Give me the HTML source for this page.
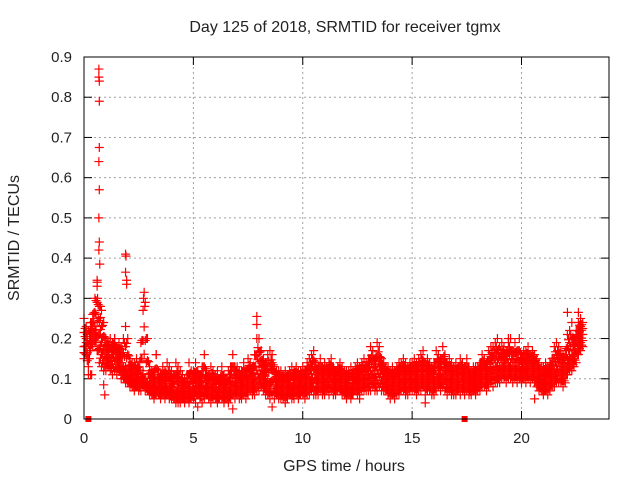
<!DOCTYPE html>
<html><head><meta charset="utf-8"><style>
body{margin:0;background:#fff}
svg{display:block;font-family:"Liberation Sans",sans-serif}
</style></head><body>
<svg id="chart" width="640" height="480" xmlns="http://www.w3.org/2000/svg">
<rect width="640" height="480" fill="#fff"/>
<text x="345" y="32" font-size="16" text-anchor="middle" fill="#222">Day 125 of 2018, SRMTID for receiver tgmx</text>
<text transform="translate(19,238) rotate(-90)" font-size="16" text-anchor="middle" fill="#222">SRMTID / TECUs</text>
<text x="344" y="471" font-size="16" text-anchor="middle" fill="#222">GPS time / hours</text>
<g id="grid"></g>
<g id="ticks"></g>
<g id="marks"></g>
<rect x="84" y="57" width="525" height="362" fill="none" stroke="#000" stroke-width="1"/>
</svg>
<script>
const xTicks=[0,5,10,15,20];
const yTicks=[0,0.1,0.2,0.3,0.4,0.5,0.6,0.7,0.8,0.9];
const yTickLabels=["0","0.1","0.2","0.3","0.4","0.5","0.6","0.7","0.8","0.9"];
const tStep=0.1;
const seriesLo=[.15,.16,.11,.17,.18,.19,.17,.14,.13,.12,
.12,.13,.12,.11,.12,.11,.12,.10,.10,.09,
.09,.08,.08,.07,.08,.07,.07,.08,.07,.07,
.06,.06,.05,.06,.06,.05,.06,.05,.06,.05,
.05,.05,.04,.05,.04,.05,.04,.05,.04,.05,
.05,.04,.06,.05,.04,.05,.06,.05,.04,.05,
.05,.04,.05,.05,.04,.05,.04,.05,.06,.05,
.06,.05,.05,.06,.05,.06,.07,.06,.06,.07,
.07,.08,.07,.06,.06,.05,.06,.05,.06,.05,
.05,.05,.04,.05,.06,.05,.05,.06,.05,.06,
.06,.05,.06,.06,.07,.06,.06,.06,.07,.06,
.06,.07,.06,.07,.06,.06,.07,.07,.06,.06,
.05,.06,.05,.06,.07,.06,.06,.07,.07,.07,
.07,.07,.08,.07,.07,.08,.07,.07,.07,.06,
.05,.06,.05,.06,.06,.07,.07,.06,.06,.07,
.07,.07,.06,.07,.07,.08,.06,.07,.07,.06,
.06,.07,.08,.07,.08,.07,.06,.07,.06,.06,
.06,.07,.06,.07,.06,.07,.06,.06,.07,.06,
.07,.07,.08,.08,.07,.08,.09,.08,.09,.09,
.09,.10,.10,.09,.10,.10,.09,.10,.09,.10,
.09,.10,.09,.10,.09,.10,.09,.08,.07,.07,
.06,.07,.06,.07,.08,.08,.09,.09,.09,.08,
.09,.11,.12,.12,.13,.14,.16,.17,.18];
const seriesMid=[.18,.20,.15,.21,.22,.23,.24,.21,.19,.17,
.16,.17,.15,.16,.17,.15,.16,.14,.13,.13,
.12,.11,.11,.10,.10,.10,.11,.12,.10,.09,
.09,.09,.08,.09,.08,.08,.09,.08,.08,.08,
.08,.07,.07,.08,.07,.07,.06,.07,.08,.07,
.08,.09,.09,.08,.09,.10,.08,.09,.08,.09,
.08,.07,.08,.09,.07,.08,.07,.09,.10,.09,
.09,.09,.08,.10,.09,.10,.11,.10,.10,.12,
.13,.12,.11,.10,.10,.09,.12,.10,.09,.09,
.08,.09,.08,.09,.09,.08,.09,.10,.08,.09,
.09,.09,.10,.10,.11,.12,.10,.10,.11,.10,
.10,.10,.11,.11,.10,.10,.10,.11,.09,.09,
.09,.09,.08,.09,.10,.10,.10,.11,.10,.11,
.11,.12,.12,.11,.12,.13,.12,.11,.10,.10,
.09,.09,.09,.10,.10,.10,.11,.10,.10,.11,
.10,.11,.10,.11,.11,.12,.10,.11,.11,.10,
.10,.11,.12,.11,.12,.12,.10,.11,.10,.10,
.10,.10,.11,.11,.10,.11,.10,.09,.10,.10,
.10,.11,.12,.12,.11,.12,.13,.13,.14,.14,
.13,.14,.14,.13,.14,.14,.13,.14,.13,.14,
.12,.13,.13,.14,.13,.14,.13,.12,.10,.10,
.09,.10,.10,.11,.12,.12,.13,.14,.13,.12,
.13,.15,.16,.16,.17,.19,.20,.21,.21];
const seriesHi=[.25,.23,.22,.24,.26,.30,.34,.28,.27,.24,
.20,.19,.20,.19,.20,.18,.19,.18,.20,.23,
.20,.15,.14,.14,.15,.13,.19,.27,.29,.20,
.13,.12,.12,.16,.12,.11,.13,.12,.14,.13,
.12,.11,.14,.13,.12,.11,.10,.11,.14,.12,
.12,.14,.12,.11,.13,.16,.12,.11,.13,.12,
.11,.12,.10,.13,.11,.10,.12,.13,.16,.13,
.13,.12,.12,.14,.12,.15,.14,.13,.16,.20,
.20,.17,.15,.14,.16,.17,.16,.13,.12,.12,
.12,.11,.12,.11,.12,.13,.12,.13,.12,.12,
.13,.12,.14,.15,.16,.17,.14,.13,.15,.13,
.14,.13,.14,.15,.13,.12,.13,.14,.13,.12,
.12,.12,.13,.12,.13,.14,.13,.14,.15,.14,
.15,.18,.17,.15,.19,.18,.15,.14,.13,.13,
.12,.13,.12,.13,.14,.14,.15,.14,.13,.14,
.14,.15,.14,.15,.16,.17,.14,.15,.14,.13,
.14,.17,.16,.15,.18,.16,.14,.15,.14,.13,
.14,.13,.15,.14,.13,.15,.13,.12,.13,.13,
.13,.14,.16,.15,.14,.17,.18,.18,.19,.20,
.18,.19,.18,.17,.19,.20,.17,.19,.17,.20,
.16,.17,.17,.18,.16,.17,.16,.15,.14,.13,
.13,.14,.13,.14,.15,.18,.19,.18,.17,.16,
.17,.21,.22,.24,.20,.22,.24,.25,.24];
const outlierT=[0.68,0.68,0.7,0.7,0.7,0.68,0.7,0.68,0.7,0.68,0.72,0.6,0.6,0.62,0.75,1.9,1.92,1.9,1.95,1.95,2.75,2.72,2.78,0.9,0.95,0.3,0.35,7.9,7.9,22.1,22.6,4.3,5.2,8.6,6.8,0.1,1.4,3.3,12.6,15.6,19.4,20.6];
const outlierV=[.87,.85,.84,.79,.675,.64,.57,.5,.44,.42,.385,.345,.33,.3,.28,.41,.405,.365,.345,.335,.315,.3,.28,.085,.06,.11,.11,.255,.235,.265,.265,.04,.03,.03,.025,.19,.2,.16,.05,.04,.2,.05];
const markerT=[0.2,17.4];
const markerV=[0,0];

const X0=84,X1=609,Y0=419,Y1=57,XMAX=24,YMAX=0.9;
const sx=t=>X0+(X1-X0)*t/XMAX;
const sy=v=>Y0-(Y0-Y1)*v/YMAX;
const NS="http://www.w3.org/2000/svg";
const grid=document.getElementById('grid'),ticks=document.getElementById('ticks'),marks=document.getElementById('marks');
function mk(tag,attrs,parent){const e=document.createElementNS(NS,tag);for(const k in attrs)e.setAttribute(k,attrs[k]);parent.appendChild(e);return e;}

yTicks.forEach((v,i)=>{
  const y=sy(v);
  if(i>0&&i<yTicks.length-1){const g=mk('line',{x1:X0,x2:X1,y1:y,y2:y,stroke:'#a0a0a0','stroke-dasharray':'2,3'},grid);
  
  }
  const t1=mk('line',{x1:X0,x2:X0+8,y1:y,y2:y,stroke:'#000'},ticks);
  
  
  const t2=mk('line',{x1:X1-8,x2:X1,y1:y,y2:y,stroke:'#000'},ticks);
  
  
  const lb=mk('text',{x:72,y:y+5,'font-size':15,'text-anchor':'end',fill:'#222'},ticks);
  lb.textContent=yTickLabels[i];
  
  
});
xTicks.forEach(t=>{
  const x=sx(t);
  if(t>0){const g=mk('line',{x1:x,x2:x,y1:Y1,y2:Y0,stroke:'#a0a0a0','stroke-dasharray':'2,3'},grid);
  
  }
  const t1=mk('line',{x1:x,x2:x,y1:Y0,y2:Y0-8,stroke:'#000'},ticks);
  
  
  const t2=mk('line',{x1:x,x2:x,y1:Y1,y2:Y1+8,stroke:'#000'},ticks);
  
  
  const lb=mk('text',{x:x,y:443,'font-size':15,'text-anchor':'middle',fill:'#222'},ticks);
  lb.textContent=String(t);
  
  
});
function plus(t,v){
  const x=sx(t),y=sy(v);
  const p=mk('path',{d:`M${x-4.5},${y}h9M${x},${y-4.5}v9`,stroke:'#f00','stroke-width':1.2,fill:'none'},marks);
  
  
}
const N=seriesMid.length;
for(let i=0;i<N;i++){
  const lo=seriesLo[i],md=seriesMid[i],hi=seriesHi[i];
  plus(i*tStep,lo);plus(i*tStep,md);plus(i*tStep,hi);
  plus(i*tStep,0.5*lo+0.5*md);plus(i*tStep,0.5*md+0.5*hi);
  if(i+1<N){
    const lo2=(lo+seriesLo[i+1])/2,md2=(md+seriesMid[i+1])/2,hi2=(hi+seriesHi[i+1])/2;
    const t=(i+0.5)*tStep;
    plus(t,0.75*lo2+0.25*md2);plus(t,0.25*lo2+0.75*md2);
    plus(t,0.7*md2+0.3*hi2);plus(t,0.3*md2+0.7*hi2);
  }
}
outlierT.forEach((t,i)=>plus(t,outlierV[i]));
markerT.forEach((t,i)=>{
  const r=mk('rect',{x:sx(t)-3,y:sy(markerV[i])-3,width:6,height:6,fill:'#f00'},marks);
  
  
});
</script>
</body></html>
